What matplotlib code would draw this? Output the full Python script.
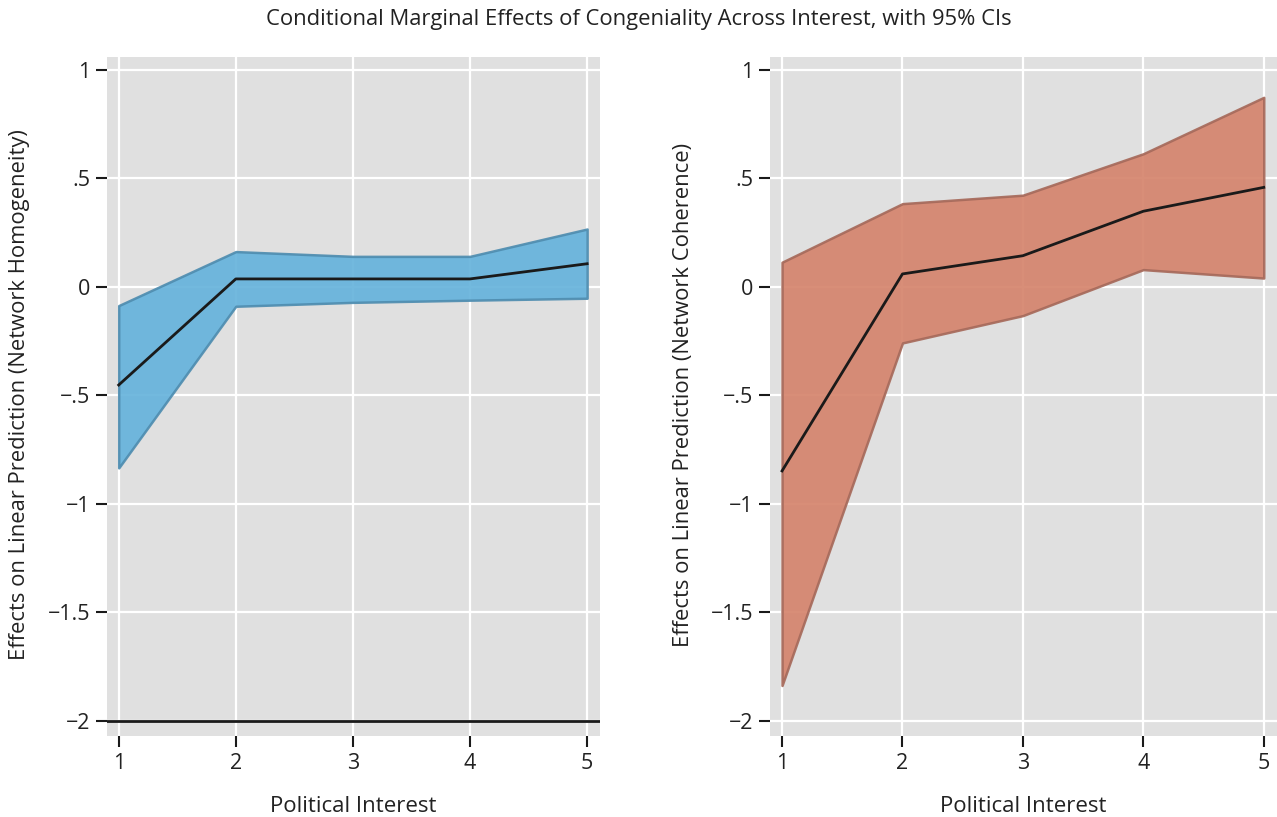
import matplotlib
matplotlib.use("Agg")
import matplotlib.pyplot as plt

plt.rcParams['font.family'] = ['Open Sans', 'DejaVu Sans']

interest = [1, 2, 3, 4, 5]

homog_est = [-0.452, 0.037, 0.037, 0.037, 0.107]
homog_lo = [-0.834, -0.089, -0.071, -0.061, -0.052]
homog_hi = [-0.086, 0.163, 0.141, 0.141, 0.267]

coher_est = [-0.848, 0.060, 0.144, 0.349, 0.459]
coher_lo = [-1.837, -0.258, -0.132, 0.080, 0.041]
coher_hi = [0.114, 0.384, 0.423, 0.614, 0.874]

y_ticks = [-2, -1.5, -1, -0.5, 0, 0.5, 1]
y_ticklabels = ["\u22122", "\u22121.5", "\u22121", "\u2212.5", "0", ".5", "1"]
x_ticklabels = ["1", "2", "3", "4", "5"]

title = "Conditional Marginal Effects of Congeniality Across Interest, with 95% CIs"
xlabel = "Political Interest"
ylabel_left = "Effects on Linear Prediction (Network Homogeneity)"
ylabel_right = "Effects on Linear Prediction (Network Coherence)"

W, H = 1277, 817
fig = plt.figure(figsize=(W/100, H/100), dpi=100)
ax1 = fig.add_axes([107/W, 1-736/H, (600-107)/W, (736-57)/H])
ax2 = fig.add_axes([770/W, 1-736/H, (1277-770)/W, (736-57)/H])

panels = [
    (ax1, homog_est, homog_lo, homog_hi, "#66b3dc", "#4f8db0", ylabel_left, 107, 600, 20),
    (ax2, coher_est, coher_lo, coher_hi, "#d5846d", "#a66a5b", ylabel_right, 770, 1277, 683),
]

for ax, est, lo, hi, fc, ec, ylab, x0, x1, ylx in panels:
    ax.set_facecolor("#e0e0e0")
    ax.set_xlim(0.9, 5.11)
    ax.set_ylim(-2.07, 1.06)
    ax.set_xticks(interest)
    ax.set_xticklabels(x_ticklabels)
    ax.set_yticks(y_ticks)
    ax.set_yticklabels(y_ticklabels)
    ax.grid(True, color="white", linewidth=1.6, zorder=0)
    ax.set_axisbelow(True)
    for s in ax.spines.values():
        s.set_visible(False)
    ax.tick_params(axis="both", length=8, width=1.5, color="#1a1a1a",
                   labelsize=15.5, labelcolor="#222222", pad=4)
    ax.fill_between(interest, lo, hi, facecolor=fc, edgecolor=ec,
                    linewidth=1.8, alpha=0.92, zorder=2)
    ax.plot(interest, est, color="#1a1a1a", linewidth=2.0, zorder=3)
    xl = ax.set_xlabel(xlabel, fontsize=16, color="#222222")
    xl.set_va("center")
    ax.xaxis.set_label_coords(0.5, (736-806)/679)
    yl = ax.set_ylabel(ylab, fontsize=15.8, color="#222222")
    yl.set_va("center")
    ax.yaxis.set_label_coords((ylx - x0) / (x1 - x0), (736-395)/679)

ax1.axhline(-2, color="#1a1a1a", linewidth=2.0, zorder=3)

fig.text(0.5, 1-20/H, title, ha="center", va="center", fontsize=15.8, color="#222222")

fig.savefig("out.png", dpi=100)
